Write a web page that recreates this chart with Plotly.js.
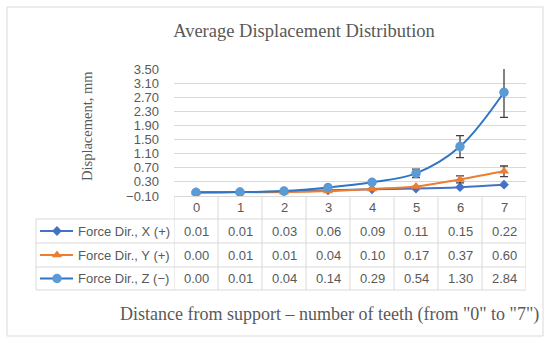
<!DOCTYPE html>
<html>
<head>
<meta charset="utf-8">
<script src="https://cdn.plot.ly/plotly-3.0.1.min.js"></script>
<style>html,body{margin:0;padding:0;background:#fff;}#chart{width:550px;height:343px;}</style>
</head>
<body>
<div id="chart"></div>
<script>
// ---- data ----
const categories = [0, 1, 2, 3, 4, 5, 6, 7];
const seriesNames = ['Force Dir., X (+)', 'Force Dir., Y (+)', 'Force Dir., Z (\u2212)'];
const forceX = [0.01, 0.01, 0.03, 0.06, 0.09, 0.11, 0.15, 0.22];
const forceY = [0.00, 0.01, 0.01, 0.04, 0.10, 0.17, 0.37, 0.60];
const forceZ = [0.00, 0.01, 0.04, 0.14, 0.29, 0.54, 1.30, 2.84];
const errorY = [0, 0, 0, 0, 0, 0, 0.10, 0.15];
const errorZ = [0, 0, 0, 0, 0, 0.12, 0.31, 0.71];
const yTickVals = [-0.10, 0.30, 0.70, 1.10, 1.50, 1.90, 2.30, 2.70, 3.10, 3.50];
const yTickText = yTickVals.map(v => v.toFixed(2).replace('-', '\u2212'));
const chartTitle = 'Average Displacement Distribution';
const xTitle = 'Distance from support \u2013 number of teeth (from "0" to "7")';
const yTitle = 'Displacement, mm';

// ---- styles ----
const W = 550, H = 343;
const colX = '#4472C4', colY = '#ED7D31', colZline = '#2E75C2', colZmark = '#5B9BD5';
const grid = '#D9D9D9', txt = '#595959';
const sans = 'Liberation Sans, Arial, sans-serif';
const serif = 'Liberation Serif, Times New Roman, serif';
const seriesData = [forceX, forceY, forceZ];
const lineCols = [colX, colY, colZline];
const markCols = [colX, colY, colZmark];
const symbols = ['diamond', 'triangle-up', 'circle'];
const msizes = [7.5, 9, 9.5];

// layout geometry (pixels)
const plotL = 174, plotR = 526, plotT = 69, plotB = 196;
const rowEdges = [196, 219, 243, 267, 290];
const legL = 36;

const traces = [];
const errs = [null, errorY, errorZ];
for (let s = 0; s < 3; s++) {
  const t = {
    type: 'scatter', mode: 'lines+markers', x: categories, y: seriesData[s],
    name: seriesNames[s], showlegend: false, cliponaxis: false,
    line: {color: lineCols[s], width: 2, shape: 'spline', smoothing: 1},
    marker: {symbol: symbols[s], size: msizes[s], color: markCols[s]},
    xaxis: 'x', yaxis: 'y'
  };
  if (errs[s]) {
    t.error_y = {type: 'data', array: errs[s], visible: true, color: '#404040', thickness: 1.3, width: 4};
  }
  traces.push(t);
}
// legend-key markers inside table (pixel overlay axes)
const keyY = [];
for (let r = 1; r < 4; r++) keyY.push((rowEdges[r] + rowEdges[r + 1]) / 2);
for (let s = 0; s < 3; s++) {
  traces.push({
    type: 'scatter', mode: 'markers', x: [57], y: [keyY[s]], showlegend: false, cliponaxis: false,
    marker: {symbol: symbols[s], size: msizes[s], color: markCols[s]},
    xaxis: 'x2', yaxis: 'y2', hoverinfo: 'skip'
  });
}

const shapes = [];
const annotations = [];
// outer chart border
shapes.push({type: 'rect', xref: 'x2', yref: 'y2', x0: 7, x1: 543, y0: 7, y1: 336, line: {color: grid, width: 1}});
// table vertical lines
for (let i = 0; i <= categories.length; i++) {
  shapes.push({type: 'line', xref: 'x', yref: 'y2', x0: i - 0.5, x1: i - 0.5, y0: rowEdges[0], y1: rowEdges[4], line: {color: grid, width: 1}});
}
shapes.push({type: 'line', xref: 'x2', yref: 'y2', x0: legL, x1: legL, y0: rowEdges[1], y1: rowEdges[4], line: {color: grid, width: 1}});
for (let r = 1; r < rowEdges.length; r++) {
  shapes.push({type: 'line', xref: 'x2', yref: 'y2', x0: legL, x1: plotR, y0: rowEdges[r], y1: rowEdges[r], line: {color: grid, width: 1}});
}
// legend key lines
for (let s = 0; s < 3; s++) {
  shapes.push({type: 'line', xref: 'x2', yref: 'y2', x0: 40, x1: 73, y0: keyY[s], y1: keyY[s], line: {color: lineCols[s], width: 2}, layer: 'below'});
}
// header row
const tf = {family: sans, size: 13, color: txt};
categories.forEach((c, i) => {
  annotations.push({xref: 'x', yref: 'y2', x: c, y: (rowEdges[0] + rowEdges[1]) / 2, text: String(c), showarrow: false, font: tf, xanchor: 'center', yanchor: 'middle'});
});
// value rows
for (let s = 0; s < 3; s++) {
  categories.forEach((c, i) => {
    annotations.push({xref: 'x', yref: 'y2', x: c, y: keyY[s], text: seriesData[s][i].toFixed(2), showarrow: false, font: tf, xanchor: 'center', yanchor: 'middle'});
  });
  annotations.push({xref: 'x2', yref: 'y2', x: 76, y: keyY[s], text: seriesNames[s], showarrow: false, font: tf, xanchor: 'left', yanchor: 'middle'});
}
// axis titles
annotations.push({xref: 'x2', yref: 'y2', x: 329, y: 314, text: xTitle, showarrow: false, xanchor: 'center', yanchor: 'middle', font: {family: serif, size: 18, color: txt}});
annotations.push({xref: 'x2', yref: 'y2', x: 87, y: 126, text: yTitle, textangle: -90, showarrow: false, xanchor: 'center', yanchor: 'middle', font: {family: serif, size: 14.5, color: txt}});

const layout = {
  width: W, height: H,
  margin: {l: 0, r: 0, t: 0, b: 0},
  paper_bgcolor: '#ffffff', plot_bgcolor: 'rgba(0,0,0,0)',
  showlegend: false,
  title: {text: chartTitle, x: 304 / W, xanchor: 'center', y: 1 - 31 / H, yanchor: 'middle', xref: 'paper', yref: 'paper',
    font: {family: serif, size: 18.5, color: txt}},
  xaxis: {domain: [plotL / W, plotR / W], range: [-0.5, 7.5], showticklabels: false, showgrid: false, zeroline: false,
    showline: true, linecolor: grid, linewidth: 1, ticks: '', fixedrange: true, anchor: 'y'},
  yaxis: {domain: [1 - plotB / H, 1 - plotT / H], range: [-0.1, 3.5], tickmode: 'array', tickvals: yTickVals, ticktext: yTickText,
    showgrid: true, gridcolor: grid, gridwidth: 1, zeroline: false, showline: false, ticks: '', ticklabelstandoff: 14,
    tickfont: {family: sans, size: 13, color: txt}, fixedrange: true, anchor: 'x'},
  xaxis2: {domain: [0, 1], range: [0, W], visible: false, fixedrange: true, anchor: 'y2'},
  yaxis2: {domain: [0, 1], range: [H, 0], visible: false, fixedrange: true, anchor: 'x2'},
  shapes: shapes,
  annotations: annotations
};

Plotly.newPlot('chart', traces, layout, {displayModeBar: false, staticPlot: true});
</script>
</body>
</html>
